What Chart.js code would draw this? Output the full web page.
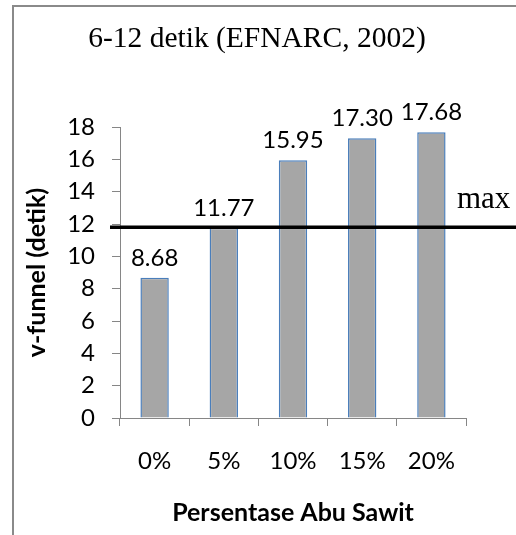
<!DOCTYPE html>
<html>
<head>
<meta charset="utf-8">
<title>v-funnel</title>
<script src="https://cdn.jsdelivr.net/npm/chart.js@4"></script>
<style>
  body { margin: 0; background: #fff; }
  canvas { display: block; }
</style>
</head>
<body>
<canvas id="funnelChart" width="516" height="535"></canvas>
<script>
// data
const categories = ['0%', '5%', '10%', '15%', '20%'];
const vFunnel = [8.68, 11.77, 15.95, 17.30, 17.68];
const yTickValues = [0, 2, 4, 6, 8, 10, 12, 14, 16, 18];
const limitValue = 11.8;        // the black "max" line
const limitLabel = 'max';
const chartTitle = '6-12 detik (EFNARC, 2002)';

const axisGray = '#868686';
const labelFont = 'Lato';

// frame round the whole picture
const framePlugin = {
    id: 'frame',
    beforeDraw(chart) {
        const ctx = chart.ctx;
        ctx.save();
        ctx.fillStyle = '#fff';
        ctx.fillRect(0, 0, chart.width, chart.height);
        ctx.strokeStyle = '#8a8a8a';
        ctx.lineWidth = 2;
        ctx.strokeRect(13, 6, chart.width + 20, chart.height + 20);
        ctx.restore();
    }
};

// values above the bars
const valueLabels = {
    id: 'valueLabels',
    afterDatasetsDraw(chart) {
        const ctx = chart.ctx;
        const meta = chart.getDatasetMeta(0);
        ctx.save();
        ctx.font = '24px ' + labelFont;
        ctx.fillStyle = '#000';
        ctx.textAlign = 'center';
        ctx.textBaseline = 'alphabetic';
        meta.data.forEach((bar, i) => {
            ctx.fillText(vFunnel[i].toFixed(2), bar.x, bar.y - 12);
        });
        ctx.restore();
    }
};

// title, limit line and its label
const limitLine = {
    id: 'limitLine',
    afterDraw(chart) {
        const ctx = chart.ctx;
        const y = chart.scales.y.getPixelForValue(limitValue);
        ctx.save();
        ctx.strokeStyle = '#000';
        ctx.lineWidth = 3.5;
        ctx.beginPath();
        ctx.moveTo(chart.chartArea.left - 10, y);
        ctx.lineTo(chart.width, y);
        ctx.stroke();

        ctx.fillStyle = '#000';
        ctx.font = '31px "Liberation Serif"';
        ctx.textAlign = 'left';
        ctx.textBaseline = 'alphabetic';
        ctx.fillText(limitLabel, 457, y - 19);

        ctx.font = '29.5px "Liberation Serif"';
        ctx.textAlign = 'center';
        ctx.fillText(chartTitle, 257, 47);
        ctx.restore();
    }
};

const ctx = document.getElementById('funnelChart').getContext('2d');
const funnelChart = new Chart(ctx, {
    type: 'bar',
    data: {
        labels: categories,
        datasets: [{
            data: vFunnel,
            backgroundColor: '#a6a6a6',
            borderColor: '#4a7ebb',
            borderWidth: 1.5,
            categoryPercentage: 1,
            barPercentage: 0.41
        }]
    },
    options: {
        responsive: false,
        animation: false,
        layout: {
            padding: { top: 127, right: 50, bottom: 0, left: 0 }
        },
        plugins: {
            legend: { display: false },
            tooltip: { enabled: false }
        },
        scales: {
            x: {
                afterFit: (scale) => { scale.height = 117; },
                grid: { drawOnChartArea: false, tickLength: 8, color: axisGray, offset: true },
                border: { color: axisGray },
                ticks: {
                    color: '#000',
                    padding: 21,
                    maxRotation: 0,
                    autoSkip: false,
                    font: { family: labelFont, size: 24 }
                },
                title: {
                    display: true,
                    text: 'Persentase Abu Sawit',
                    color: '#000',
                    font: { family: labelFont, size: 25, weight: 'bold' },
                    padding: { top: 0, bottom: 7 }
                }
            },
            y: {
                min: 0,
                max: 18,
                afterBuildTicks: (scale) => {
                    scale.ticks = yTickValues.map(v => ({ value: v }));
                },
                afterFit: (scale) => { scale.width = 120; },
                grid: { drawOnChartArea: false, tickLength: 8, color: axisGray },
                border: { color: axisGray },
                ticks: {
                    color: '#000',
                    padding: 17,
                    font: { family: labelFont, size: 24 }
                },
                title: {
                    display: true,
                    text: 'v-funnel (detik)',
                    color: '#000',
                    font: { family: labelFont, size: 25, weight: 'bold' },
                    padding: { top: 22, bottom: 0 }
                }
            }
        }
    },
    plugins: [framePlugin, valueLabels, limitLine]
});
</script>
</body>
</html>
